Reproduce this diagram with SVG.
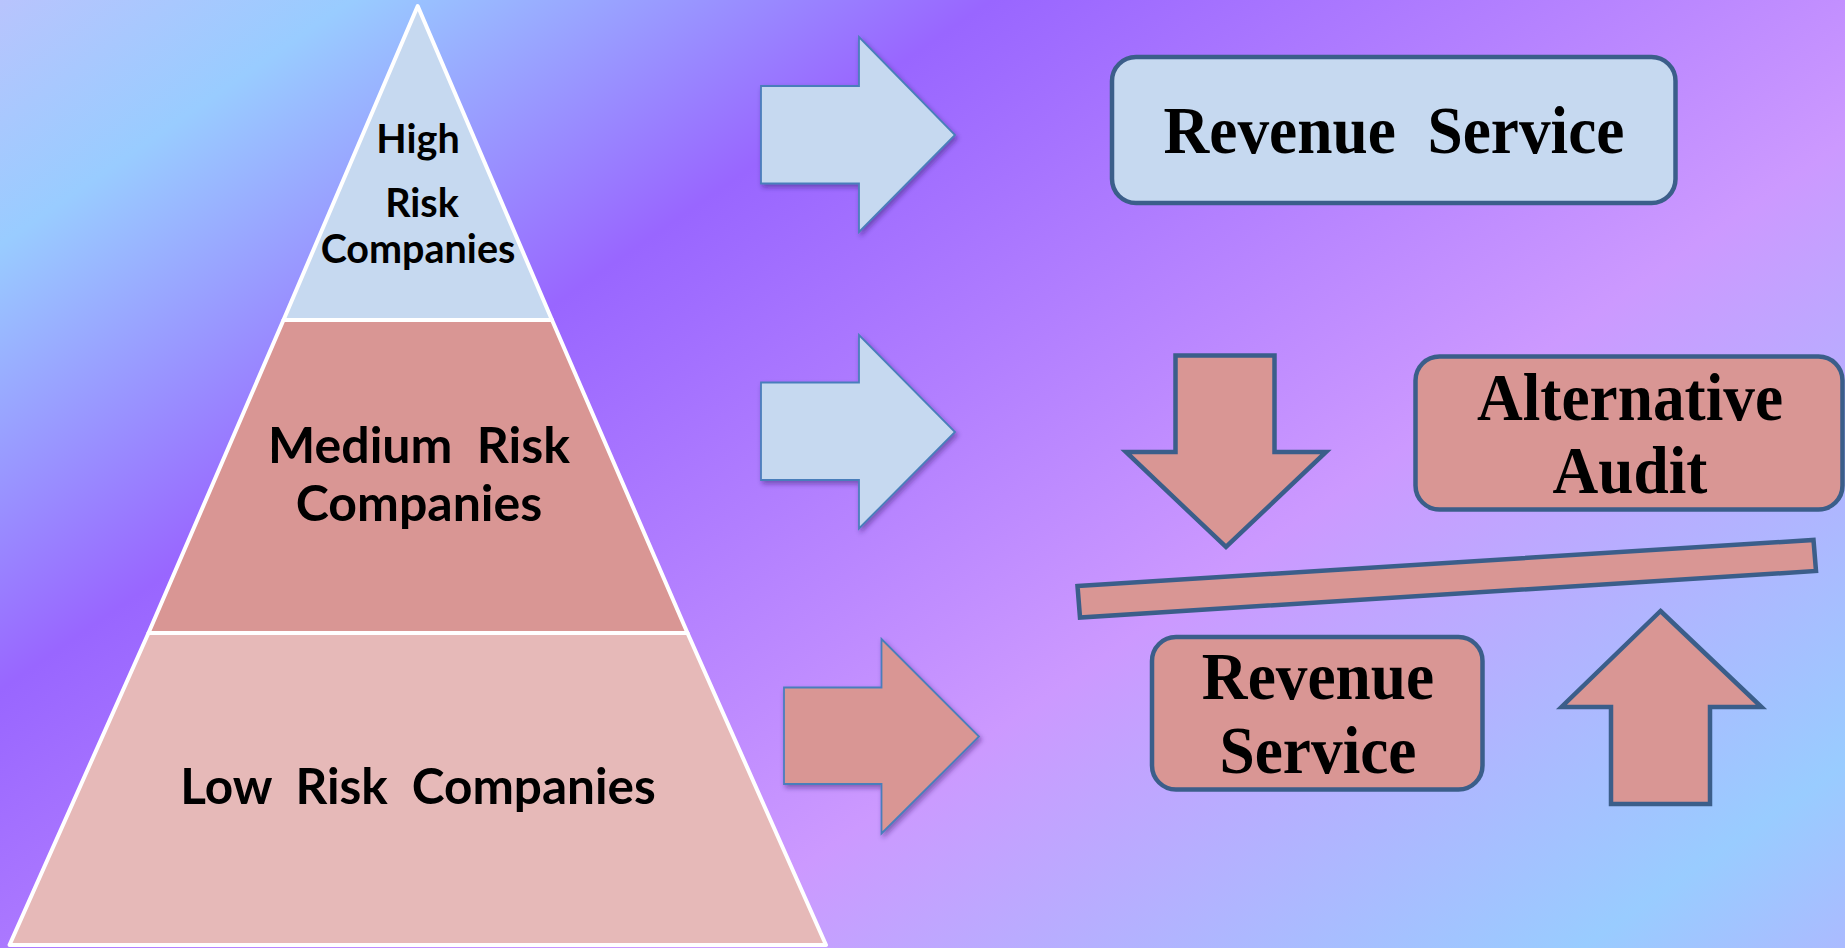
<svg xmlns="http://www.w3.org/2000/svg" width="1845" height="948" viewBox="0 0 1845 948">
<defs>
<linearGradient id="bg" gradientUnits="userSpaceOnUse" x1="0" y1="0" x2="1043" y2="1500">
<stop offset="0" stop-color="#B8C4FD"/>
<stop offset="0.11" stop-color="#99CCFF"/>
<stop offset="0.31" stop-color="#9966FF"/>
<stop offset="0.64" stop-color="#CC99FF"/>
<stop offset="0.92" stop-color="#99CCFF"/>
<stop offset="1" stop-color="#AABBFF"/>
</linearGradient>
<filter id="sh" x="-10%" y="-10%" width="130%" height="130%">
<feDropShadow dx="2" dy="3" stdDeviation="2.5" flood-color="#2a1a60" flood-opacity="0.45"/>
</filter>
<style>
.tier{stroke:#FFFFFF;stroke-width:4;stroke-linejoin:round}
.pt{font-family:Lato,"Open Sans","DejaVu Sans",sans-serif;font-weight:bold;fill:#000;text-anchor:middle;white-space:pre}
.bt{font-family:"Liberation Serif","Times New Roman",serif;font-weight:bold;fill:#000;text-anchor:middle;white-space:pre}
.thin{stroke:#4A7EBB;stroke-width:1.8;stroke-linejoin:miter;filter:url(#sh)}
.thick{fill:#D99694;stroke:#3B5E8A;stroke-width:4.5;stroke-linejoin:miter}
.box{stroke:#3B5E8A;stroke-width:4.5}
</style>
</defs>
<rect x="0" y="0" width="1845" height="948" fill="url(#bg)"/>
<g id="pyramid">
<g id="tier-high">
<polygon class="tier" points="417.7,6 552,320 283.5,320" fill="#C6D9F0"/>
<text class="pt" x="418" y="153" font-size="39.5">High</text>
<text class="pt" x="422" y="217" font-size="39.5">Risk</text>
<text class="pt" x="418" y="263" font-size="39.5">Companies</text>
</g>
<g id="tier-medium">
<polygon class="tier" points="283.5,320 552,320 687.5,633 148.5,633" fill="#D99694"/>
<text class="pt" x="419" y="463" font-size="50">Medium  Risk</text>
<text class="pt" x="419" y="521" font-size="50">Companies</text>
</g>
<g id="tier-low">
<polygon class="tier" points="148.5,633 687.5,633 826,945 9.5,945" fill="#E6B9B8"/>
<text class="pt" x="418" y="804" font-size="49.5">Low  Risk  Companies</text>
</g>
</g>
<g id="connectors">
<polygon class="thin" fill="#C6D9F0" points="761,86 859,86 859,37 955,135 859,232 859,183.5 761,183.5"/>
<polygon class="thin" fill="#C6D9F0" points="761,382.5 859,382.5 859,335 955,432 859,528.5 859,480 761,480"/>
<polygon class="thin" fill="#D99694" points="784,687.5 881.5,687.5 881.5,639 979,736.5 881.5,833.5 881.5,784 784,784"/>
<polygon class="thick" points="1175.5,355.5 1274.5,355.5 1274.5,452 1326,452 1226,547 1126,452 1175.5,452"/>
<polygon class="thick" points="1660.5,611 1761.5,707 1710,707 1710,804 1611,804 1611,707 1561.5,707"/>
<polygon class="thick" points="1077.5,586 1813.5,540 1816,571 1080,617.5"/>
</g>
<g id="revenue-service-top">
<rect class="box" x="1112" y="57" width="563.5" height="146" rx="24" fill="#C6D9F0"/>
<text class="bt" transform="translate(1394,153) scale(0.96,1.04)" x="0" y="0" font-size="66">Revenue  Service</text>
</g>
<g id="alternative-audit">
<rect class="box" x="1415.5" y="356.5" width="427" height="153" rx="24" fill="#D99694"/>
<text class="bt" transform="translate(1630,420) scale(0.96,1.04)" x="0" y="0" font-size="66">Alternative</text>
<text class="bt" transform="translate(1630,493) scale(0.96,1.04)" x="0" y="0" font-size="66">Audit</text>
</g>
<g id="revenue-service-bottom">
<rect class="box" x="1152" y="637" width="330.5" height="152.5" rx="24" fill="#D99694"/>
<text class="bt" transform="translate(1318,699) scale(0.96,1.04)" x="0" y="0" font-size="66">Revenue</text>
<text class="bt" transform="translate(1318,773) scale(0.96,1.04)" x="0" y="0" font-size="66">Service</text>
</g>
</svg>
